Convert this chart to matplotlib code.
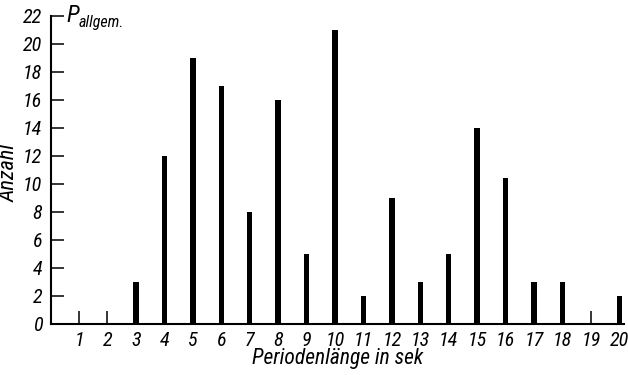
import matplotlib
matplotlib.use("Agg")
import matplotlib.pyplot as plt

# Periodenlänge (sek) und Anzahl
perioden = list(range(1, 21))
anzahl = [0, 0, 3, 12, 19, 17, 8, 16, 5, 21, 2, 9, 3, 5, 14, 10.4, 3, 3, 0, 2]
y_ticks = list(range(0, 23, 2))

plt.rcParams["font.family"] = ["Roboto Condensed", "DejaVu Sans"]
plt.rcParams["font.style"] = "italic"

fig = plt.figure(figsize=(6.28, 3.75), dpi=100)
ax = fig.add_axes([50.6 / 628, 1 - 323.7 / 375, (20.15 * 28.44) / 628, (323.7 - 15.7) / 375])

# only the nonzero counts get a bar
xs = [p for p, a in zip(perioden, anzahl) if a > 0]
hs = [a for a in anzahl if a > 0]
ax.bar(xs, hs, width=0.19, color="black", linewidth=0)

ax.set_xlim(0, 20.15)
ax.set_ylim(0, 22)
for s in ("top", "right"):
    ax.spines[s].set_visible(False)
for s in ("left", "bottom"):
    ax.spines[s].set_linewidth(1.5)

ax.set_xticks(perioden)
ax.set_xticklabels([str(p) for p in perioden], fontsize=14.5)
ax.set_yticks(y_ticks)
ax.set_yticklabels([str(v) for v in y_ticks], fontsize=14.5)
ax.tick_params(axis="both", direction="in", length=9.5, width=1.1, color="black")
ax.tick_params(axis="x", pad=5)
ax.tick_params(axis="y", pad=6)

ax.set_xlabel("Periodenlänge in sek", fontsize=15.5, labelpad=-1)
ax.set_ylabel("Anzahl", fontsize=16)
ax.yaxis.set_label_coords(-0.054, 0.49)

# P_allgem. next to the top tick
ax.text(0.55, 22, "P", fontsize=17, va="center", ha="left")
ax.text(0.98, 21.5, "allgem.", fontsize=11.5, va="center", ha="left")

fig.savefig("out.png", dpi=100, facecolor="white")
